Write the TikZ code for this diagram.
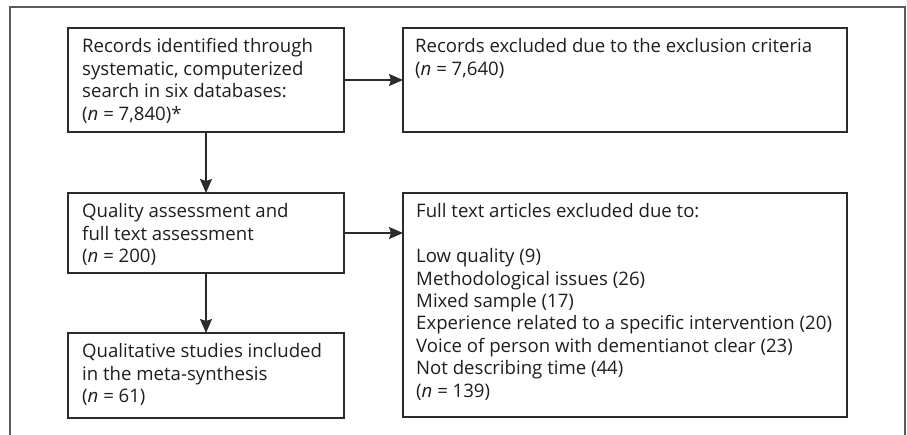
\documentclass[tikz,border=0pt]{standalone}
\usepackage{fontspec}
\setmainfont{Open Sans}
\usetikzlibrary{arrows.meta}
\definecolor{boxline}{HTML}{2B2B2B}
\definecolor{frameline}{HTML}{5A5A5A}
\definecolor{txt}{HTML}{1E1E1E}
\tikzset{
  box/.style={draw=boxline, line width=1.5pt, minimum width=#1, anchor=north west, inner sep=0pt, outer sep=0pt},
  label/.style={anchor=north west, inner sep=0pt, align=left, text=txt, font=\fontsize{18.6}{22.4}\selectfont},
  flow/.style={draw=boxline, line width=1.5pt, -{Stealth[length=14pt,width=12pt,inset=2pt]}}
}
\begin{document}
\begin{tikzpicture}[x=1pt,y=-1pt]
\useasboundingbox (0,0) rectangle (907,435);
\draw[frameline, line width=2pt] (10,435) -- (10,7) -- (905,7) -- (905,435);
% boxes
\node[box=276pt, minimum height=104pt] (A) at (68,28) {};
\node[box=444pt, minimum height=104pt] (B) at (403,28) {};
\node[box=276pt, minimum height=80pt] (C) at (68,193) {};
\node[box=444pt, minimum height=224pt] (D) at (403,193) {};
\node[box=276pt, minimum height=85pt] (E) at (68,333) {};
% texts
\node[label] (tA) at (82,37) {\strut Records identified through\\systematic, computerized\\search in six databases:\\(\textit{n} = 7,840)*};
\node[label] (tB) at (415,37) {\strut Records excluded due to the exclusion criteria\\(\textit{n} = 7,640)};
\node[label] (tC) at (82,202) {\strut Quality assessment and\\full text assessment\\(\textit{n} = 200)};
\node[label] (tD) at (416,202) {\strut Full text articles excluded due to:\\\mbox{}\\Low quality (9)\\Methodological issues (26)\\Mixed sample (17)\\Experience related to a specific intervention (20)\\Voice of person with dementianot clear (23)\\Not describing time (44)\\(\textit{n} = 139)};
\node[label] (tE) at (82,342) {\strut Qualitative studies included\\in the meta-synthesis\\(\textit{n} = 61)};
% connectors
\draw[flow] (A.east) -- (B.west);
\draw[flow] (A.south) -- (C.north);
\draw[flow] (C.east) -- (C.east -| D.west);
\draw[flow] (C.south) -- (E.north);
\end{tikzpicture}
\end{document}
